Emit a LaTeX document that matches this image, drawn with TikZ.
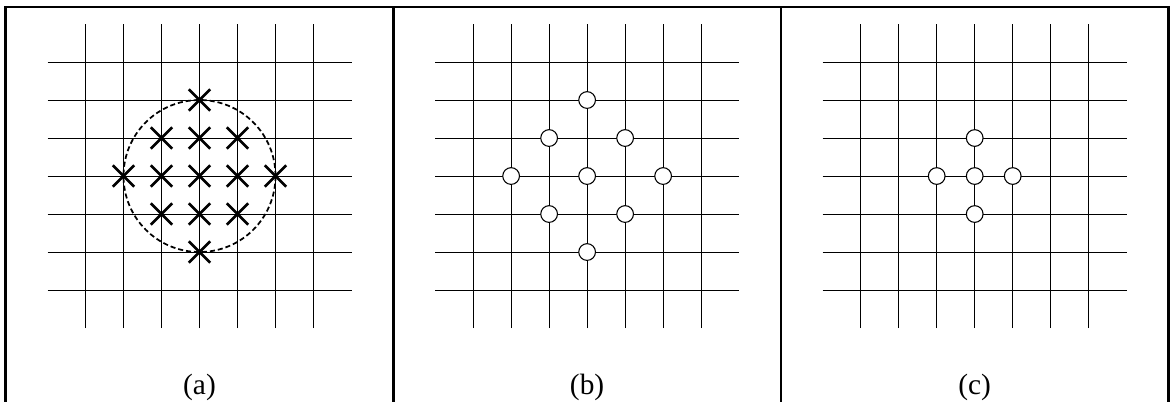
\documentclass[tikz,border=0pt]{standalone}
\usepackage{fontspec}
\setmainfont{Liberation Serif}
\usetikzlibrary{shapes.misc,calc}

\begin{document}
\begin{tikzpicture}[
    gridline/.style={line width=0.65pt},
    frame/.style={line width=1.8pt},
    ring/.style={dashed, dash pattern=on 3.8pt off 2.2pt, line width=1.3pt},
    cross/.style={cross out, draw, line width=2pt, minimum size=0.49cm, inner sep=0pt},
    dot/.style={circle, draw, fill=white, line width=0.8pt, minimum size=0.44cm, inner sep=0pt},
    caption/.style={font=\fontsize{22}{24}\selectfont, anchor=base}
]
\useasboundingbox (0,0) rectangle (30.789,-10.553);

% frames of the three panels
\draw[frame] (0.15,-10.7) |- (30.75,-0.18) -- (30.75,-10.7);
\draw[frame] (10.35,-0.18) -- (10.35,-10.7);
\draw[frame] (20.55,-0.18) -- (20.55,-10.7);

% lattice in every panel
\foreach \cx in {5.25,15.45,25.65} {
  \foreach \k in {-3,...,3} {
    \draw[gridline] (\cx+\k,-4.632-4) -- (\cx+\k,-4.632+4);
    \draw[gridline] (\cx-4,-4.632+\k) -- (\cx+4,-4.632+\k);
  }
}

% (a) points inside the circle
\coordinate (ca) at (5.25,-4.632);
\draw[ring] (ca) circle (2);
\foreach \p/\q [count=\n] in {0/2,-1/1,0/1,1/1,-2/0,-1/0,0/0,1/0,2/0,-1/-1,0/-1,1/-1,0/-2}
  \node[cross] (xa\n) at ($(ca)+(\p,\q)$) {};

% (b) diamond of points
\coordinate (cb) at (15.45,-4.632);
\foreach \p/\q [count=\n] in {0/2,-1/1,1/1,-2/0,0/0,2/0,-1/-1,1/-1,0/-2}
  \node[dot] (ob\n) at ($(cb)+(\p,\q)$) {};

% (c) nearest neighbours
\coordinate (cc) at (25.65,-4.632);
\foreach \p/\q [count=\n] in {0/1,-1/0,0/0,1/0,0/-1}
  \node[dot] (oc\n) at ($(cc)+(\p,\q)$) {};

\node[caption] (capa) at (5.25,-10.39) {(a)};
\node[caption] (capb) at (15.45,-10.39) {(b)};
\node[caption] (capc) at (25.65,-10.39) {(c)};

\end{tikzpicture}
\end{document}
